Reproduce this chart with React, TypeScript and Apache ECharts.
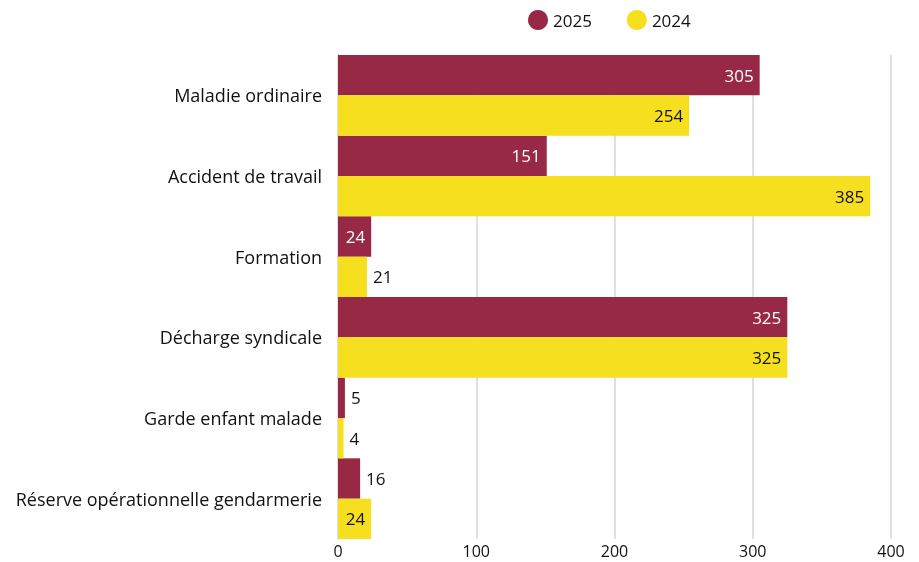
import React, { useEffect, useRef } from "react";
import * as echarts from "echarts";

const categories = [
  "Maladie ordinaire",
  "Accident de travail",
  "Formation",
  "Décharge syndicale",
  "Garde enfant malade",
  "Réserve opérationnelle gendarmerie",
];
const values2025 = [305, 151, 24, 325, 5, 16];
const values2024 = [254, 385, 21, 325, 4, 24];
const xTicks = [0, 100, 200, 300, 400];

const FONT = "'Open Sans', sans-serif";

function buildData(vals: number[], insideColor: string) {
  return vals.map((v) =>
    v >= 22
      ? { value: v, label: { position: "insideRight", color: insideColor, distance: 6 } }
      : { value: v, label: { position: "right", color: "#111", distance: 6 } }
  );
}

export default function App() {
  const ref = useRef<HTMLDivElement>(null);
  useEffect(() => {
    if (!ref.current) return;
    const chart = echarts.init(ref.current, null, { renderer: "svg" });
    chart.setOption({
      animation: false,
      textStyle: { fontFamily: FONT },
      legend: {
        data: ["2025", "2024"],
        top: 5,
        left: 523,
        icon: "circle",
        itemWidth: 20,
        itemHeight: 20,
        itemGap: 35,
        textStyle: { fontSize: 17, color: "#111", fontFamily: FONT },
      },
      grid: { left: 338, right: 28, top: 55, bottom: 23, containLabel: false },
      xAxis: {
        type: "value",
        min: xTicks[0],
        max: xTicks[xTicks.length - 1],
        interval: 100,
        axisLine: { show: false },
        axisTick: { show: false },
        splitLine: { show: true, lineStyle: { color: "#d6d6d6", width: 1.5 } },
        axisLabel: { fontSize: 16, color: "#111", margin: 4, fontFamily: FONT },
      },
      yAxis: {
        type: "category",
        data: categories,
        inverse: true,
        axisLine: { show: true, lineStyle: { color: "#888", width: 1 } },
        axisTick: { show: false },
        axisLabel: { fontSize: 18, color: "#111", margin: 16, fontFamily: FONT },
      },
      series: [
        {
          name: "2025",
          type: "bar",
          data: buildData(values2025, "#fff"),
          itemStyle: { color: "#982946" },
          barGap: "0%",
          barCategoryGap: "0%",
          label: { show: true, fontSize: 17, fontFamily: FONT },
        },
        {
          name: "2024",
          type: "bar",
          data: buildData(values2024, "#111"),
          itemStyle: { color: "#F5DF1F" },
          barGap: "0%",
          barCategoryGap: "0%",
          label: { show: true, fontSize: 17, fontFamily: FONT },
        },
      ],
    });
    return () => chart.dispose();
  }, []);
  return (
    <div
      ref={ref}
      style={{ position: "fixed", left: 0, top: 0, width: 919, height: 562 }}
    />
  );
}
